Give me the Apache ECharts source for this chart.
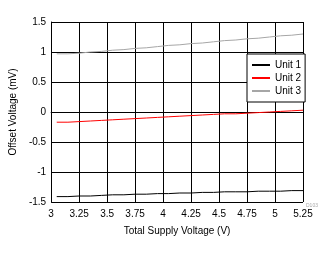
<!DOCTYPE html>
<html><head><meta charset="utf-8">
<script src="https://cdn.jsdelivr.net/npm/echarts@6/dist/echarts.min.js"></script>
<style>html,body{margin:0;padding:0;background:#fff}#c{width:336px;height:254px}</style>
</head><body><div id="c"></div>
<script>
const xValues = [3.05,3.15,3.25,3.35,3.45,3.55,3.65,3.75,3.85,3.95,4.05,4.15,4.25,4.35,4.45,4.55,4.65,4.75,4.85,4.95,5.05,5.15,5.25];
const unit1 = [-1.41,-1.40,-1.40,-1.39,-1.38,-1.38,-1.37,-1.37,-1.36,-1.36,-1.35,-1.35,-1.34,-1.34,-1.33,-1.33,-1.33,-1.32,-1.32,-1.32,-1.31,-1.31,-1.30];
const unit2 = [-0.17,-0.16,-0.15,-0.14,-0.13,-0.12,-0.11,-0.10,-0.09,-0.08,-0.07,-0.06,-0.05,-0.04,-0.03,-0.03,-0.02,-0.01,0.00,0.01,0.02,0.03,0.04];
const unit3 = [0.97,0.98,1.00,1.01,1.03,1.04,1.06,1.07,1.09,1.11,1.12,1.14,1.15,1.17,1.19,1.20,1.22,1.23,1.25,1.27,1.28,1.30,1.31];
const seriesNames = ['Unit 1','Unit 2','Unit 3'];
const seriesColors = ['#000000','#ff0000','#a6a6a6'];
const xTicks = ['3','3.25','3.5','3.75','4','4.25','4.5','4.75','5','5.25'];
const yTicks = ['-1.5','-1','-0.5','0','0.5','1','1.5'];

const font = 'Liberation Sans, Arial, sans-serif';
const chart = echarts.init(document.getElementById('c'));
const all = [unit1, unit2, unit3];
chart.setOption({
  animation: false,
  grid: {left: 48, top: 22, right: 33, bottom: 52},
  xAxis: {
    type: 'value', min: 3, max: 5.25, interval: 0.25,
    name: 'Total Supply Voltage (V)', nameLocation: 'middle', nameGap: 24,
    nameTextStyle: {color: '#000', fontSize: 10, fontFamily: font},
    axisLine: {lineStyle: {color: '#000', width: 1}},
    axisTick: {show: false},
    axisLabel: {color: '#000', fontSize: 10, fontFamily: font, margin: 7,
      formatter: v => { const s = String(+v.toFixed(2)); return xTicks.includes(s) ? s : ''; }},
    splitLine: {show: true, lineStyle: {color: '#000', width: 1}}
  },
  yAxis: {
    type: 'value', min: -1.5, max: 1.5, interval: 0.5,
    name: 'Offset Voltage (mV)', nameLocation: 'middle', nameGap: 30,
    nameTextStyle: {color: '#000', fontSize: 10, fontFamily: font},
    axisLine: {show: true, lineStyle: {color: '#000', width: 1}},
    axisTick: {show: false},
    axisLabel: {color: '#000', fontSize: 10, fontFamily: font, margin: 5,
      formatter: v => { const s = String(+v.toFixed(2)); return yTicks.includes(s) ? s : ''; }},
    splitLine: {show: true, lineStyle: {color: '#000', width: 1}}
  },
  legend: {
    orient: 'vertical', left: 247, top: 54, width: 56,
    backgroundColor: '#fff', borderColor: '#000', borderWidth: 1,
    padding: [6, 4, 6, 5], itemGap: 3, itemWidth: 18, itemHeight: 2,
    icon: 'rect',
    textStyle: {color: '#000', fontSize: 10, fontFamily: font, padding: [0,0,0,0]},
    data: seriesNames
  },
  series: seriesNames.map((n, i) => ({
    name: n, type: 'line', step: 'end', showSymbol: false, symbol: 'none',
    lineStyle: {color: seriesColors[i], width: 1}, itemStyle: {color: seriesColors[i]},
    data: xValues.map((x, j) => [x, all[i][j]])
  })),
  graphic: [{type: 'text', left: 306, top: 203, style: {text: 'D103', fontSize: 5, fill: '#aaa', fontFamily: font}}]
});
</script></body></html>
